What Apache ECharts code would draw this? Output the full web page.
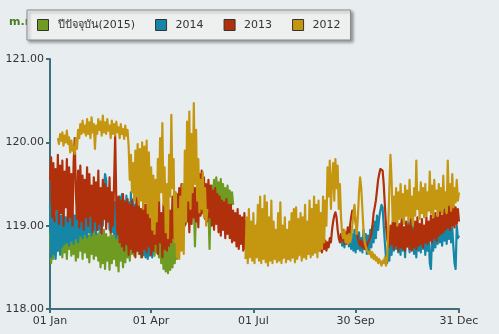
<!DOCTYPE html>
<html>
<head>
<meta charset="utf-8">
<script src="https://cdn.jsdelivr.net/npm/echarts@6/dist/echarts.min.js"></script>
<style>
  html, body { margin: 0; padding: 0; background: #e8eef0; }
  #chart { width: 499px; height: 334px; }
</style>
</head>
<body>
<div id="chart"></div>
<script>
// Daily water level (m.msl) by day of year.
const STEP_DAYS = 1;

const tickDays = [0, 90, 181, 272, 364];
const tickLabels = ['01 Jan', '01 Apr', '01 Jul', '30 Sep', '31 Dec'];
const seriesNames = ['ปีปัจจุบัน(2015)', '2014', '2013', '2012'];

// 2015: days 0-163
const level2015 = [
  118.92,118.55,118.88,118.60,118.98,118.64,118.90,118.70,118.96,118.66,
  118.94,118.62,119.00,118.68,118.88,118.60,118.95,118.72,118.90,118.64,
  118.98,118.66,118.92,118.58,118.86,118.62,118.97,118.70,118.90,118.60,
  119.02,118.68,118.93,118.62,118.88,118.56,118.95,118.66,118.90,118.60,
  118.96,118.64,118.90,118.58,118.92,118.50,118.88,118.55,118.95,118.48,
  118.90,118.58,118.86,118.47,118.93,118.55,118.88,118.60,118.96,118.52,
  118.90,118.45,118.94,118.58,118.86,118.50,118.92,118.56,118.88,118.62,
  118.94,118.58,118.88,118.66,118.85,118.64,118.90,118.70,118.84,118.66,
  118.88,118.62,118.92,118.68,118.86,118.64,118.90,118.70,118.85,118.66,
  118.88,118.72,118.84,118.64,118.90,118.68,118.86,118.62,118.82,118.55,
  118.80,118.48,118.78,118.45,118.82,118.43,118.76,118.47,118.80,118.50,
  118.84,118.55,118.86,118.60,118.92,118.80,119.05,118.90,119.15,118.98,
  119.20,119.02,119.25,119.05,119.28,119.08,119.32,119.10,119.25,118.75,
  119.22,119.05,119.35,119.12,119.38,119.15,119.40,119.18,119.42,119.16,
  119.45,119.20,118.72,119.30,119.48,119.25,119.55,119.28,119.58,119.30,
  119.52,119.25,119.56,119.30,119.50,119.22,119.45,119.25,119.48,119.20,
  119.42,119.22,119.40,119.25
];

// 2014: days 0-92 and days 258-364
const level2014Early = [
  119.25,118.62,119.18,118.66,119.10,118.60,119.20,118.70,119.15,118.65,
  119.12,118.75,119.18,118.78,119.10,118.80,119.15,118.76,119.08,118.82,
  119.15,118.78,119.12,118.85,119.20,118.80,119.18,118.88,119.25,118.85,
  119.22,118.90,119.30,118.86,119.25,118.92,119.28,118.88,119.32,118.95,
  119.25,118.90,119.30,118.95,119.35,118.92,119.28,119.00,119.45,119.62,
  119.55,119.05,119.40,118.95,119.30,118.92,119.35,118.90,119.28,118.85,
  119.32,118.88,119.35,118.82,119.38,118.78,119.30,118.80,119.36,118.76,
  119.28,118.74,119.40,118.80,119.32,118.75,119.25,118.78,119.30,118.74,
  119.20,118.76,119.05,118.65,118.98,118.62,118.95,118.60,118.92,118.64,
  118.96,118.62,118.90
];
const level2014Late = [
  118.80,118.90,118.76,118.88,118.74,118.85,118.78,118.92,118.75,118.95,
  118.72,118.90,118.70,118.95,118.68,118.88,118.72,118.92,118.70,118.85,
  118.68,118.95,118.72,118.90,118.66,118.88,118.70,118.95,118.74,119.00,
  118.80,119.05,118.85,119.12,118.95,119.10,119.18,119.25,119.22,119.00,
  118.80,118.62,118.55,118.75,118.58,118.90,118.65,118.95,118.70,119.00,
  118.72,119.02,118.68,118.95,118.65,119.05,118.70,118.98,118.62,119.00,
  118.75,119.05,118.68,118.98,118.72,119.02,118.66,118.95,118.62,119.00,
  118.70,118.96,118.68,119.02,118.72,118.95,118.65,119.00,118.70,118.92,
  118.55,118.48,118.85,118.70,119.00,118.74,119.05,118.78,118.98,118.80,
  119.05,118.76,119.02,118.82,119.06,118.78,119.00,118.84,119.04,118.80,
  118.98,118.75,118.55,118.48,119.00,118.85,118.88
];

// 2013: days 0-364
const level2013 = [
  119.55,119.82,119.10,119.75,119.05,119.68,119.20,119.85,119.02,119.72,
  119.15,119.78,119.00,119.65,119.22,119.80,119.05,119.70,119.10,119.62,
  119.00,119.75,120.05,119.40,119.08,119.66,118.98,119.72,119.05,119.60,
  118.95,119.55,119.10,119.70,119.00,119.62,119.12,119.48,118.92,119.58,
  119.05,119.52,118.95,119.66,119.02,119.45,118.90,119.55,119.08,119.50,
  118.96,119.45,119.05,119.58,118.92,119.40,119.00,119.50,120.08,119.30,
  118.90,119.35,118.80,119.30,118.75,119.38,118.70,119.28,118.78,119.32,
  118.65,119.25,118.72,119.30,118.68,119.22,118.62,119.35,118.70,119.28,
  118.66,119.20,118.62,119.30,118.72,119.25,118.68,119.32,118.75,119.20,
  118.65,119.28,118.70,119.30,118.78,119.22,118.66,119.33,118.80,119.15,
  118.62,119.25,118.72,119.20,118.70,119.30,118.76,119.18,118.80,119.35,
  118.85,119.40,118.82,119.38,118.90,119.45,118.95,119.50,118.88,119.42,
  119.00,119.55,119.05,119.48,118.92,119.52,119.02,119.60,119.10,119.45,
  119.05,119.55,118.98,119.62,119.12,119.66,119.15,119.58,119.08,119.50,
  119.05,119.55,119.10,119.48,119.00,119.42,118.95,119.45,119.02,119.38,
  118.92,119.35,118.88,119.30,118.95,119.28,118.85,119.32,118.90,119.25,
  118.85,119.25,118.80,119.18,118.82,119.15,118.75,119.20,118.72,119.12,
  118.78,119.10,118.70,119.15,118.72,119.05,118.68,119.08,118.70,119.00,
  118.65,118.98,118.66,118.95,118.64,119.05,119.12,119.16,118.80,118.95,
  118.66,118.92,118.62,118.88,118.65,118.90,118.62,118.85,118.60,118.88,
  118.64,118.90,118.58,118.82,118.62,118.88,118.60,118.84,118.62,118.86,
  118.64,118.90,118.60,118.85,118.66,118.82,118.62,118.88,118.65,118.80,
  118.62,118.86,118.66,118.84,118.64,118.88,118.68,118.82,118.65,118.80,
  118.68,118.84,118.66,118.80,118.70,118.82,118.68,118.78,118.72,118.82,
  118.70,118.80,118.68,118.78,118.72,118.82,118.70,118.80,118.74,118.85,
  118.80,118.95,119.05,119.12,119.16,119.10,118.95,118.85,118.80,118.90,
  118.82,118.95,118.78,118.92,118.85,118.98,118.80,119.00,119.10,119.18,
  119.20,119.15,119.05,118.95,118.85,118.80,118.76,118.82,118.74,118.80,
  118.72,118.78,118.75,118.80,118.78,118.86,118.90,119.00,119.15,119.22,
  119.30,119.42,119.55,119.62,119.68,119.70,119.66,119.50,119.25,119.00,
  118.85,118.78,118.75,119.00,118.78,119.05,118.72,119.10,118.76,119.00,
  118.70,119.02,118.74,119.08,118.72,118.98,118.70,119.05,118.75,119.00,
  118.72,119.08,118.70,118.95,118.74,119.05,118.72,119.10,118.76,119.02,
  118.78,119.08,118.74,119.00,118.80,119.10,118.78,119.05,118.82,119.12,
  118.80,119.08,118.85,119.15,118.82,119.10,118.88,119.18,118.90,119.12,
  118.92,119.20,118.95,119.15,118.98,119.25,118.95,119.20,119.00,119.25,
  118.98,119.22,119.02,119.20,119.05
];

// 2012: days 7-140 and days 174-364
const level2012Early = [
  120.05,119.98,120.10,120.02,120.12,119.96,120.08,120.00,120.14,119.98,
  120.06,119.88,120.02,119.90,119.95,119.86,120.05,119.92,120.15,120.05,
  120.22,120.10,120.26,120.12,120.20,120.08,120.28,120.10,120.24,120.05,
  120.30,120.12,120.22,119.92,120.20,120.10,120.28,120.15,120.25,120.08,
  120.32,120.12,120.24,120.10,120.28,120.14,120.20,120.05,120.26,120.10,
  120.22,120.08,120.25,120.12,120.18,120.05,120.22,120.10,120.16,120.04,
  120.20,120.08,120.15,
  119.95,119.55,119.85,119.40,119.75,119.30,119.90,119.35,119.98,119.25,
  119.92,119.30,120.00,119.20,119.95,119.28,120.02,119.15,119.88,119.10,
  119.70,118.95,119.60,118.90,119.55,119.05,119.80,119.30,120.05,119.40,
  120.23,119.25,119.70,118.92,119.50,118.85,119.85,119.35,120.33,119.45,
  119.80,118.80,119.40,118.62,119.20,118.60,119.35,118.70,119.50,118.66,
  119.90,119.05,120.25,119.30,120.37,119.20,120.10,119.40,120.47,119.50,
  120.15,119.30,119.80,119.16,119.55,119.20,119.64,119.10,119.45,119.00,
  119.20
];
const level2012Late = [
  118.60,119.10,118.55,119.20,118.62,119.05,118.58,119.15,118.55,119.00,
  118.62,119.25,118.58,119.35,118.55,119.20,118.60,119.36,118.56,119.28,
  118.52,119.10,118.58,119.30,118.55,119.05,118.60,118.95,118.56,119.15,
  118.58,119.28,118.55,119.00,118.62,119.10,118.56,118.95,118.60,119.05,
  118.58,119.15,118.62,119.20,118.56,119.22,118.60,119.08,118.65,119.15,
  118.58,119.10,118.62,119.25,118.60,119.05,118.66,119.30,118.62,119.20,
  118.65,119.35,118.68,119.25,118.62,119.30,118.70,119.15,118.72,119.35,
  118.80,119.30,119.00,119.70,119.35,119.78,119.20,119.55,119.75,119.30,
  119.80,119.45,119.72,119.20,119.50,119.10,118.90,118.85,118.95,118.80,
  118.88,118.78,118.90,118.80,118.85,119.00,119.15,119.25,119.05,118.90,
  119.10,119.40,119.58,119.45,119.20,118.95,118.80,118.75,118.70,118.72,
  118.66,118.70,118.62,118.68,118.60,118.65,118.58,118.62,118.55,118.60,
  118.56,118.52,118.58,118.55,118.62,118.52,118.60,118.95,119.45,119.85,
  119.55,119.05,119.35,119.05,119.45,119.00,119.40,119.08,119.50,119.10,
  119.38,119.02,119.48,119.12,119.42,119.05,119.55,119.10,119.35,119.00,
  119.45,119.12,119.78,119.20,119.40,119.08,119.52,119.15,119.45,119.10,
  119.50,119.12,119.40,119.18,119.65,119.15,119.48,119.10,119.55,119.20,
  119.42,119.12,119.50,119.18,119.45,119.15,119.60,119.22,119.40,119.15,
  119.78,119.25,119.50,119.18,119.62,119.22,119.45,119.28,119.55,119.30,
  119.40
];

const seriesColors = ['#6f9b22', '#1686a6', '#b0300c', '#c59610'];

// Turn [startDay, values] segments into [day, level] points; '-' breaks the line between segments.
function toPoints(segments) {
  const pts = [];
  segments.forEach(([startDay, values], k) => {
    if (k > 0) pts.push([startDay - STEP_DAYS, '-']);
    values.forEach((v, i) => pts.push([startDay + i * STEP_DAYS, v]));
  });
  return pts;
}

const seriesData = [
  toPoints([[0, level2015]]),
  toPoints([[0, level2014Early], [258, level2014Late]]),
  toPoints([[0, level2013]]),
  toPoints([[7, level2012Early], [174, level2012Late]])
];

const axisColor = '#3f6f7c';
const font = 'DejaVu Sans';

const chart = echarts.init(document.getElementById('chart'), null, { renderer: 'canvas' });
chart.setOption({
  backgroundColor: '#e8eef0',
  animation: false,
  title: {
    text: 'm.msl',
    left: 4,
    top: 12,
    z: 1,
    textStyle: { color: '#4a7a1e', fontSize: 11, fontWeight: 'bold', fontFamily: font }
  },
  legend: {
    data: seriesNames,
    left: 27,
    top: 10,
    z: 10,
    padding: [9, 10, 9, 10],
    itemWidth: 11,
    itemHeight: 11,
    itemGap: 20,
    icon: 'rect',
    backgroundColor: '#eef0f0',
    borderColor: '#8a8a8a',
    borderWidth: 1,
    shadowColor: 'rgba(0,0,0,0.35)',
    shadowBlur: 3,
    shadowOffsetX: 2,
    shadowOffsetY: 2,
    itemStyle: { borderColor: '#333', borderWidth: 1 },
    textStyle: { color: '#333', fontSize: 11, fontFamily: font, width: 76, padding: [0, 0, 0, 4] },
    selectedMode: false
  },
  grid: { left: 50, right: 40, top: 59, bottom: 25 },
  xAxis: {
    type: 'value',
    min: 0,
    max: 364,
    axisLine: { lineStyle: { color: axisColor, width: 2 } },
    axisTick: { customValues: tickDays, length: 4, lineStyle: { color: axisColor, width: 2 } },
    axisLabel: {
      customValues: tickDays,
      formatter: v => tickLabels[tickDays.indexOf(v)],
      color: '#333', fontSize: 11, fontFamily: font, margin: 7
    },
    splitLine: { show: false }
  },
  yAxis: {
    type: 'value',
    min: 118,
    max: 121,
    interval: 1,
    axisLine: { show: true, lineStyle: { color: axisColor, width: 2 } },
    axisTick: { show: true, length: 4, lineStyle: { color: axisColor, width: 2 } },
    axisLabel: { formatter: v => v.toFixed(2), color: '#333', fontSize: 11, fontFamily: font, margin: 6 },
    splitLine: { show: false }
  },
  series: seriesNames.map((name, k) => ({
    name,
    type: 'line',
    data: seriesData[k],
    showSymbol: false,
    symbol: 'none',
    silent: true,
    color: seriesColors[k],
    lineStyle: { color: seriesColors[k], width: 2.2, join: 'round' }
  }))
});
</script>
</body>
</html>
